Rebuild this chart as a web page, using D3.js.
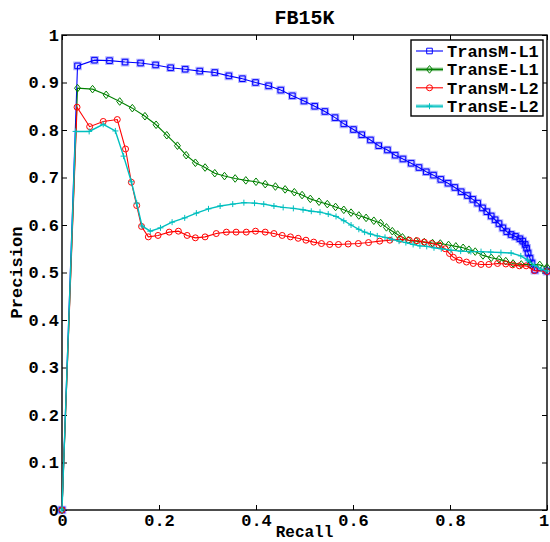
<!DOCTYPE html>
<html>
<head>
<meta charset="utf-8">
<script src="https://cdn.jsdelivr.net/npm/d3@7"></script>
<style>
  html, body { margin: 0; padding: 0; background: #fff; }
  svg { display: block; }
  text { font-family: "Liberation Mono", "Courier New", "DejaVu Sans Mono", monospace; font-weight: bold; fill: #000; }
</style>
</head>
<body>
<div id="chart"></div>
<script>
// ---- data ----
const chartTitle = "FB15K";
const xLabel = "Recall";
const yLabel = "Precision";
const recallTicks = [0, 0.2, 0.4, 0.6, 0.8, 1];
const precisionTicks = [0, 0.1, 0.2, 0.3, 0.4, 0.5, 0.6, 0.7, 0.8, 0.9, 1];
const seriesNames = ["TransM-L1", "TransE-L1", "TransM-L2", "TransE-L2"];

// [recall, precision]
const transML1 = [[0,0],[.032,.935],[.067,.947],[.098,.946],[.130,.943],[.162,.941],[.193,.937],[.224,.931],[.254,.928],[.284,.924],[.315,.921],[.344,.914],[.372,.908],[.399,.900],[.426,.893],[.451,.884],[.475,.872],[.499,.861],[.521,.850],[.542,.839],[.563,.826],[.581,.813],[.601,.801],[.618,.790],[.636,.779],[.653,.767],[.671,.758],[.687,.747],[.703,.739],[.720,.730],[.736,.721],[.751,.712],[.766,.705],[.781,.696],[.796,.688],[.810,.679],[.823,.670],[.836,.662],[.847,.654],[.857,.646],[.867,.636],[.876,.628],[.885,.619],[.893,.611],[.901,.603],[.909,.594],[.917,.586],[.926,.580],[.935,.576],[.944,.571],[.950,.566],[.955,.559],[.958,.551],[.961,.541],[.965,.530],[.969,.520],[.975,.505],[1.0,.503]];

const transEL1 = [[0,0],[.032,.888],[.063,.886],[.091,.874],[.119,.860],[.145,.846],[.171,.829],[.194,.811],[.216,.789],[.238,.767],[.256,.747],[.275,.731],[.295,.721],[.315,.709],[.335,.703],[.357,.698],[.379,.694],[.400,.691],[.419,.686],[.440,.681],[.460,.675],[.479,.669],[.495,.663],[.512,.655],[.530,.649],[.547,.644],[.564,.638],[.581,.632],[.596,.626],[.612,.620],[.627,.615],[.643,.609],[.657,.604],[.669,.595],[.681,.587],[.692,.580],[.702,.574],[.714,.568],[.730,.566],[.747,.564],[.764,.562],[.780,.561],[.797,.558],[.812,.555],[.827,.552],[.839,.548],[.852,.544],[.868,.536],[.885,.531],[.901,.528],[.915,.524],[.930,.519],[.947,.517],[.965,.517],[.985,.516],[1.0,.511]];

const transML2 = [[0,0],[.031,.848],[.057,.807],[.085,.818],[.114,.822],[.131,.760],[.143,.690],[.154,.641],[.164,.597],[.178,.575],[.198,.578],[.221,.585],[.240,.587],[.258,.578],[.275,.573],[.295,.575],[.318,.582],[.339,.585],[.359,.585],[.380,.585],[.399,.587],[.419,.585],[.437,.582],[.454,.578],[.471,.575],[.487,.572],[.503,.568],[.519,.564],[.535,.561],[.552,.559],[.570,.559],[.590,.560],[.611,.561],[.632,.563],[.655,.566],[.676,.568],[.697,.570],[.716,.568],[.732,.567],[.747,.564],[.762,.561],[.777,.558],[.790,.550],[.799,.540],[.807,.532],[.819,.526],[.834,.522],[.848,.519],[.864,.517],[.880,.517],[.898,.519],[.915,.518],[.929,.516],[.943,.514],[.957,.514],[.974,.504],[1.0,.502]];

const transEL2 = [[0,0],[.028,.797],[.056,.797],[.085,.812],[.110,.798],[.127,.745],[.143,.691],[.154,.646],[.165,.598],[.182,.587],[.203,.594],[.227,.606],[.253,.615],[.277,.625],[.302,.634],[.326,.640],[.352,.644],[.375,.647],[.397,.646],[.416,.644],[.437,.640],[.456,.637],[.477,.635],[.497,.632],[.514,.629],[.532,.627],[.549,.623],[.565,.618],[.581,.609],[.596,.600],[.612,.591],[.624,.585],[.636,.581],[.650,.577],[.666,.574],[.680,.570],[.695,.566],[.709,.563],[.724,.559],[.738,.556],[.752,.555],[.767,.552],[.782,.550],[.802,.547],[.822,.545],[.843,.544],[.864,.544],[.884,.543],[.905,.542],[.926,.541],[.946,.535],[.960,.526],[.974,.515],[.988,.507],[1.0,.503]];

const seriesData = [transML1, transEL1, transML2, transEL2];

// ---- styles ----
const colors = ["#0000ff", "#008000", "#ff0000", "#00bfbf"];
const markerKinds = ["square", "diamond", "circle", "plus"];

const W = 550, H = 542;
const M = { left: 62, right: 3, top: 35, bottom: 32 };
const svg = d3.select("#chart").append("svg").attr("width", W).attr("height", H);

const x = d3.scaleLinear().domain([0, 1]).range([M.left, W - M.right]);
const y = d3.scaleLinear().domain([0, 1]).range([H - M.bottom, M.top]);

const fmt = d => (d === 0 ? "0" : d === 1 ? "1" : d3.format(".1f")(d));

// frame
svg.append("rect")
  .attr("x", x(0)).attr("y", y(1))
  .attr("width", x(1) - x(0)).attr("height", y(0) - y(1))
  .attr("fill", "none").attr("stroke", "#000").attr("stroke-width", 1.4);

function styleAxis(g, showText) {
  g.select(".domain").remove();
  g.selectAll(".tick line").attr("stroke", "#000").attr("stroke-width", 1);
  g.selectAll(".tick text").style("font-size", "17px").style("font-family", '"Liberation Mono", monospace').style("font-weight", "bold");
  if (!showText) g.selectAll(".tick text").remove();
}

svg.append("g").attr("transform", `translate(0,${y(0)})`)
  .call(d3.axisBottom(x).tickValues(recallTicks).tickFormat(fmt).tickSizeInner(-5).tickSizeOuter(0).tickPadding(4))
  .call(g => styleAxis(g, true))
  .call(g => g.selectAll(".tick text").filter(d => d === 1).attr("text-anchor", "end").attr("dx", "0.1em"));
svg.append("g").attr("transform", `translate(0,${y(1)})`)
  .call(d3.axisTop(x).tickValues(recallTicks).tickSizeInner(-5).tickSizeOuter(0))
  .call(g => styleAxis(g, false));
svg.append("g").attr("transform", `translate(${x(0)},0)`)
  .call(d3.axisLeft(y).tickValues(precisionTicks).tickFormat(fmt).tickSizeInner(-5).tickSizeOuter(0).tickPadding(3))
  .call(g => styleAxis(g, true));
svg.append("g").attr("transform", `translate(${x(1)},0)`)
  .call(d3.axisRight(y).tickValues(precisionTicks).tickSizeInner(-5).tickSizeOuter(0))
  .call(g => styleAxis(g, false));

// title & labels
svg.append("text").attr("x", (x(0) + x(1)) / 2).attr("y", 24)
  .attr("text-anchor", "middle").style("font-size", "20px").text(chartTitle);
svg.append("text").attr("x", (x(0) + x(1)) / 2).attr("y", 537)
  .attr("text-anchor", "middle").style("font-size", "16px").text(xLabel);
svg.append("text").attr("transform", `translate(22,${(y(0) + y(1)) / 2}) rotate(-90)`)
  .attr("text-anchor", "middle").style("font-size", "17px").text(yLabel);

function markerPath(kind) {
  switch (kind) {
    case "square": return "M-2.8,-2.8H2.8V2.8H-2.8Z";
    case "diamond": return "M0,-3.8L3,0L0,3.8L-3,0Z";
    case "plus": return "M-3,0H3M0,-3V3";
    default: return d3.symbol(d3.symbolCircle, 28)();
  }
}

const line = d3.line().x(d => x(d[0])).y(d => y(d[1]));
const plot = svg.append("g");

seriesData.forEach((data, i) => {
  const g = plot.append("g");
  if (i === 0) {
    g.append("g").selectAll("path").data(data).join("path")
      .attr("d", markerPath(markerKinds[i]))
      .attr("transform", d => `translate(${x(d[0])},${y(d[1])})`)
      .attr("fill", "none").attr("stroke", colors[i]).attr("stroke-opacity", 0.3).attr("stroke-width", 3);
  }
  g.append("path").datum(data).attr("d", line)
    .attr("fill", "none").attr("stroke", colors[i]).attr("stroke-width", i === 3 ? 1.4 : 1.1);
  g.append("g").selectAll("path").data(data).join("path")
    .attr("d", markerPath(markerKinds[i]))
    .attr("transform", d => `translate(${x(d[0])},${y(d[1])})`)
    .attr("fill", "none").attr("stroke", colors[i]).attr("stroke-width", 1);
});

// legend
const lg = svg.append("g");
const lx = 411, ly = 40, lw = 132, lh = 76;
lg.append("rect").attr("x", lx).attr("y", ly).attr("width", lw).attr("height", lh)
  .attr("fill", "#fff").attr("stroke", "#000").attr("stroke-width", 1.4);
seriesNames.forEach((name, i) => {
  const cy = ly + 11 + i * 18.4;
  if (i === 1 || i === 3) {
    lg.append("line").attr("x1", lx + 5).attr("x2", lx + 32).attr("y1", cy).attr("y2", cy)
      .attr("stroke", colors[i]).attr("stroke-opacity", 0.5).attr("stroke-width", 3.5);
  }
  lg.append("line").attr("x1", lx + 5).attr("x2", lx + 32).attr("y1", cy).attr("y2", cy)
    .attr("stroke", colors[i]).attr("stroke-width", 1.1);
  lg.append("path").attr("d", markerPath(markerKinds[i]))
    .attr("transform", `translate(${lx + 18.5},${cy})`)
    .attr("fill", "none").attr("stroke", colors[i]).attr("stroke-width", 1);
  lg.append("text").attr("x", lx + 36).attr("y", cy).attr("dy", "0.35em")
    .style("font-size", "17px").text(name);
});
</script>
</body>
</html>
